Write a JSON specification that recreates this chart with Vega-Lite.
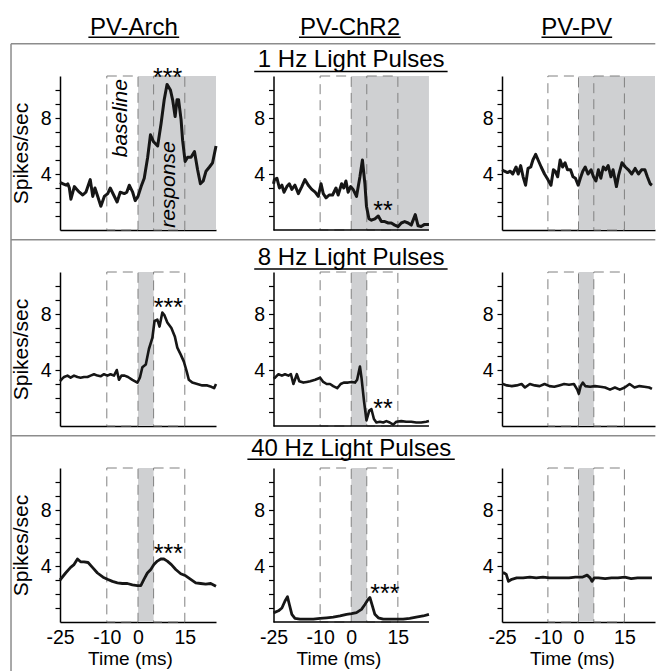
{
"$schema": "https://vega.github.io/schema/vega-lite/v6.json",
"padding": {"left": 10, "top": 0, "right": 0, "bottom": 0},
"background": "white",
"datasets": {
"stim": [{"freq": 1, "start": 0, "end": 25}, {"freq": 8, "start": 0, "end": 5}, {"freq": 40, "start": 0, "end": 5}],
"windows": [{"window": "baseline", "start": -10, "end": 0}, {"window": "response", "start": 5, "end": 15}],
"traces": [
{"cond":"PV-Arch","freq":1,"t":-25,"v":3.4},{"cond":"PV-Arch","freq":1,"t":-24,"v":3.3},{"cond":"PV-Arch","freq":1,"t":-23,"v":3.2},{"cond":"PV-Arch","freq":1,"t":-22.5,"v":3.3},{"cond":"PV-Arch","freq":1,"t":-22,"v":3.0},{"cond":"PV-Arch","freq":1,"t":-21.5,"v":2.2},{"cond":"PV-Arch","freq":1,"t":-20.4,"v":3.1},{"cond":"PV-Arch","freq":1,"t":-19.6,"v":2.9},{"cond":"PV-Arch","freq":1,"t":-18.8,"v":2.7},{"cond":"PV-Arch","freq":1,"t":-17.7,"v":2.5},{"cond":"PV-Arch","freq":1,"t":-16.7,"v":2.7},{"cond":"PV-Arch","freq":1,"t":-15.3,"v":3.6},{"cond":"PV-Arch","freq":1,"t":-14.5,"v":2.4},{"cond":"PV-Arch","freq":1,"t":-13.8,"v":3.0},{"cond":"PV-Arch","freq":1,"t":-12.9,"v":2.4},{"cond":"PV-Arch","freq":1,"t":-11.9,"v":1.7},{"cond":"PV-Arch","freq":1,"t":-10.8,"v":2.4},{"cond":"PV-Arch","freq":1,"t":-9.7,"v":2.6},{"cond":"PV-Arch","freq":1,"t":-8.9,"v":3.0},{"cond":"PV-Arch","freq":1,"t":-7.8,"v":2.5},{"cond":"PV-Arch","freq":1,"t":-6.7,"v":2.0},{"cond":"PV-Arch","freq":1,"t":-5.7,"v":2.7},{"cond":"PV-Arch","freq":1,"t":-4.4,"v":2.6},{"cond":"PV-Arch","freq":1,"t":-3.6,"v":2.7},{"cond":"PV-Arch","freq":1,"t":-2.8,"v":3.2},{"cond":"PV-Arch","freq":1,"t":-1.7,"v":2.7},{"cond":"PV-Arch","freq":1,"t":-0.9,"v":2.1},{"cond":"PV-Arch","freq":1,"t":0,"v":2.4},{"cond":"PV-Arch","freq":1,"t":1.0,"v":3.1},{"cond":"PV-Arch","freq":1,"t":2.0,"v":3.7},{"cond":"PV-Arch","freq":1,"t":3.1,"v":5.2},{"cond":"PV-Arch","freq":1,"t":4.0,"v":6.8},{"cond":"PV-Arch","freq":1,"t":5.0,"v":6.3},{"cond":"PV-Arch","freq":1,"t":6.3,"v":6.0},{"cond":"PV-Arch","freq":1,"t":7.4,"v":7.6},{"cond":"PV-Arch","freq":1,"t":8.4,"v":9.3},{"cond":"PV-Arch","freq":1,"t":9.3,"v":10.4},{"cond":"PV-Arch","freq":1,"t":10.4,"v":10.0},{"cond":"PV-Arch","freq":1,"t":11.1,"v":9.3},{"cond":"PV-Arch","freq":1,"t":11.9,"v":8.1},{"cond":"PV-Arch","freq":1,"t":12.5,"v":9.3},{"cond":"PV-Arch","freq":1,"t":13.0,"v":9.3},{"cond":"PV-Arch","freq":1,"t":13.8,"v":7.9},{"cond":"PV-Arch","freq":1,"t":14.3,"v":6.4},{"cond":"PV-Arch","freq":1,"t":15.1,"v":4.9},{"cond":"PV-Arch","freq":1,"t":15.9,"v":5.2},{"cond":"PV-Arch","freq":1,"t":17.0,"v":5.2},{"cond":"PV-Arch","freq":1,"t":18.1,"v":5.6},{"cond":"PV-Arch","freq":1,"t":19.1,"v":4.3},{"cond":"PV-Arch","freq":1,"t":20.0,"v":3.3},{"cond":"PV-Arch","freq":1,"t":20.9,"v":3.5},{"cond":"PV-Arch","freq":1,"t":21.8,"v":4.2},{"cond":"PV-Arch","freq":1,"t":22.9,"v":4.5},{"cond":"PV-Arch","freq":1,"t":23.9,"v":4.8},{"cond":"PV-Arch","freq":1,"t":25,"v":6.0},
{"cond":"PV-ChR2","freq":1,"t":-25,"v":3.3},{"cond":"PV-ChR2","freq":1,"t":-24.7,"v":3.6},{"cond":"PV-ChR2","freq":1,"t":-23.9,"v":3.7},{"cond":"PV-ChR2","freq":1,"t":-23.1,"v":3.0},{"cond":"PV-ChR2","freq":1,"t":-22.3,"v":3.2},{"cond":"PV-ChR2","freq":1,"t":-21.6,"v":2.7},{"cond":"PV-ChR2","freq":1,"t":-20.7,"v":3.1},{"cond":"PV-ChR2","freq":1,"t":-19.9,"v":3.3},{"cond":"PV-ChR2","freq":1,"t":-19.1,"v":2.9},{"cond":"PV-ChR2","freq":1,"t":-18.1,"v":3.2},{"cond":"PV-ChR2","freq":1,"t":-17.0,"v":2.6},{"cond":"PV-ChR2","freq":1,"t":-15.9,"v":3.1},{"cond":"PV-ChR2","freq":1,"t":-14.9,"v":3.6},{"cond":"PV-ChR2","freq":1,"t":-13.8,"v":3.2},{"cond":"PV-ChR2","freq":1,"t":-12.7,"v":2.9},{"cond":"PV-ChR2","freq":1,"t":-11.6,"v":2.7},{"cond":"PV-ChR2","freq":1,"t":-10.6,"v":2.4},{"cond":"PV-ChR2","freq":1,"t":-9.7,"v":3.3},{"cond":"PV-ChR2","freq":1,"t":-9.0,"v":2.6},{"cond":"PV-ChR2","freq":1,"t":-8.1,"v":2.3},{"cond":"PV-ChR2","freq":1,"t":-7.1,"v":2.5},{"cond":"PV-ChR2","freq":1,"t":-6.0,"v":2.5},{"cond":"PV-ChR2","freq":1,"t":-4.9,"v":3.0},{"cond":"PV-ChR2","freq":1,"t":-4.2,"v":2.5},{"cond":"PV-ChR2","freq":1,"t":-3.1,"v":3.3},{"cond":"PV-ChR2","freq":1,"t":-2.4,"v":3.0},{"cond":"PV-ChR2","freq":1,"t":-1.7,"v":3.5},{"cond":"PV-ChR2","freq":1,"t":-1.0,"v":2.7},{"cond":"PV-ChR2","freq":1,"t":-0.2,"v":3.1},{"cond":"PV-ChR2","freq":1,"t":0.6,"v":2.9},{"cond":"PV-ChR2","freq":1,"t":1.7,"v":2.4},{"cond":"PV-ChR2","freq":1,"t":2.8,"v":3.8},{"cond":"PV-ChR2","freq":1,"t":3.6,"v":5.0},{"cond":"PV-ChR2","freq":1,"t":4.4,"v":3.3},{"cond":"PV-ChR2","freq":1,"t":4.9,"v":1.7},{"cond":"PV-ChR2","freq":1,"t":5.7,"v":0.8},{"cond":"PV-ChR2","freq":1,"t":6.5,"v":0.7},{"cond":"PV-ChR2","freq":1,"t":7.6,"v":0.8},{"cond":"PV-ChR2","freq":1,"t":8.7,"v":1.0},{"cond":"PV-ChR2","freq":1,"t":9.7,"v":0.6},{"cond":"PV-ChR2","freq":1,"t":10.8,"v":0.6},{"cond":"PV-ChR2","freq":1,"t":11.9,"v":0.5},{"cond":"PV-ChR2","freq":1,"t":12.9,"v":0.5},{"cond":"PV-ChR2","freq":1,"t":14.0,"v":0.35},{"cond":"PV-ChR2","freq":1,"t":15.1,"v":0.25},{"cond":"PV-ChR2","freq":1,"t":16.1,"v":0.5},{"cond":"PV-ChR2","freq":1,"t":17.2,"v":0.6},{"cond":"PV-ChR2","freq":1,"t":18.3,"v":0.5},{"cond":"PV-ChR2","freq":1,"t":19.3,"v":0.35},{"cond":"PV-ChR2","freq":1,"t":20.6,"v":1.1},{"cond":"PV-ChR2","freq":1,"t":21.5,"v":0.3},{"cond":"PV-ChR2","freq":1,"t":22.5,"v":0.25},{"cond":"PV-ChR2","freq":1,"t":23.6,"v":0.4},{"cond":"PV-ChR2","freq":1,"t":25,"v":0.4},
{"cond":"PV-PV","freq":1,"t":-25,"v":4.3},{"cond":"PV-PV","freq":1,"t":-24.2,"v":4.2},{"cond":"PV-PV","freq":1,"t":-23.2,"v":4.1},{"cond":"PV-PV","freq":1,"t":-22.3,"v":4.2},{"cond":"PV-PV","freq":1,"t":-21.5,"v":4.0},{"cond":"PV-PV","freq":1,"t":-20.4,"v":4.5},{"cond":"PV-PV","freq":1,"t":-19.7,"v":4.0},{"cond":"PV-PV","freq":1,"t":-18.9,"v":4.6},{"cond":"PV-PV","freq":1,"t":-18.1,"v":3.8},{"cond":"PV-PV","freq":1,"t":-17.3,"v":3.2},{"cond":"PV-PV","freq":1,"t":-16.5,"v":4.4},{"cond":"PV-PV","freq":1,"t":-15.6,"v":4.5},{"cond":"PV-PV","freq":1,"t":-14.9,"v":5.0},{"cond":"PV-PV","freq":1,"t":-14.0,"v":5.4},{"cond":"PV-PV","freq":1,"t":-13.2,"v":5.0},{"cond":"PV-PV","freq":1,"t":-12.2,"v":4.5},{"cond":"PV-PV","freq":1,"t":-11.1,"v":4.0},{"cond":"PV-PV","freq":1,"t":-10.0,"v":3.6},{"cond":"PV-PV","freq":1,"t":-9.0,"v":3.2},{"cond":"PV-PV","freq":1,"t":-8.2,"v":4.3},{"cond":"PV-PV","freq":1,"t":-7.6,"v":4.2},{"cond":"PV-PV","freq":1,"t":-6.8,"v":3.8},{"cond":"PV-PV","freq":1,"t":-6.0,"v":5.0},{"cond":"PV-PV","freq":1,"t":-5.2,"v":4.5},{"cond":"PV-PV","freq":1,"t":-4.4,"v":4.8},{"cond":"PV-PV","freq":1,"t":-3.6,"v":4.3},{"cond":"PV-PV","freq":1,"t":-2.6,"v":4.3},{"cond":"PV-PV","freq":1,"t":-1.8,"v":3.8},{"cond":"PV-PV","freq":1,"t":-1.0,"v":3.7},{"cond":"PV-PV","freq":1,"t":-0.1,"v":3.2},{"cond":"PV-PV","freq":1,"t":0.6,"v":3.7},{"cond":"PV-PV","freq":1,"t":1.4,"v":4.2},{"cond":"PV-PV","freq":1,"t":2.2,"v":4.5},{"cond":"PV-PV","freq":1,"t":3.1,"v":4.0},{"cond":"PV-PV","freq":1,"t":4.1,"v":4.3},{"cond":"PV-PV","freq":1,"t":4.9,"v":3.8},{"cond":"PV-PV","freq":1,"t":5.7,"v":3.5},{"cond":"PV-PV","freq":1,"t":6.5,"v":4.3},{"cond":"PV-PV","freq":1,"t":7.3,"v":3.7},{"cond":"PV-PV","freq":1,"t":8.1,"v":4.5},{"cond":"PV-PV","freq":1,"t":8.9,"v":4.3},{"cond":"PV-PV","freq":1,"t":9.7,"v":4.6},{"cond":"PV-PV","freq":1,"t":10.6,"v":3.8},{"cond":"PV-PV","freq":1,"t":11.3,"v":4.3},{"cond":"PV-PV","freq":1,"t":12.4,"v":3.1},{"cond":"PV-PV","freq":1,"t":13.1,"v":3.9},{"cond":"PV-PV","freq":1,"t":14.2,"v":4.8},{"cond":"PV-PV","freq":1,"t":15.3,"v":4.5},{"cond":"PV-PV","freq":1,"t":16.3,"v":4.3},{"cond":"PV-PV","freq":1,"t":17.4,"v":4.0},{"cond":"PV-PV","freq":1,"t":18.5,"v":4.4},{"cond":"PV-PV","freq":1,"t":19.6,"v":4.0},{"cond":"PV-PV","freq":1,"t":20.6,"v":4.3},{"cond":"PV-PV","freq":1,"t":21.7,"v":4.3},{"cond":"PV-PV","freq":1,"t":22.5,"v":3.8},{"cond":"PV-PV","freq":1,"t":23.4,"v":3.3},{"cond":"PV-PV","freq":1,"t":24.0,"v":3.2},
{"cond":"PV-Arch","freq":8,"t":-25,"v":3.2},{"cond":"PV-Arch","freq":8,"t":-24.2,"v":3.4},{"cond":"PV-Arch","freq":8,"t":-23.7,"v":3.5},{"cond":"PV-Arch","freq":8,"t":-22.6,"v":3.6},{"cond":"PV-Arch","freq":8,"t":-21.6,"v":3.45},{"cond":"PV-Arch","freq":8,"t":-20.5,"v":3.6},{"cond":"PV-Arch","freq":8,"t":-19.4,"v":3.5},{"cond":"PV-Arch","freq":8,"t":-18.4,"v":3.45},{"cond":"PV-Arch","freq":8,"t":-17.3,"v":3.5},{"cond":"PV-Arch","freq":8,"t":-16.2,"v":3.5},{"cond":"PV-Arch","freq":8,"t":-15.2,"v":3.6},{"cond":"PV-Arch","freq":8,"t":-14.1,"v":3.7},{"cond":"PV-Arch","freq":8,"t":-13.0,"v":3.6},{"cond":"PV-Arch","freq":8,"t":-12.0,"v":3.55},{"cond":"PV-Arch","freq":8,"t":-10.9,"v":3.7},{"cond":"PV-Arch","freq":8,"t":-9.8,"v":3.6},{"cond":"PV-Arch","freq":8,"t":-8.8,"v":3.7},{"cond":"PV-Arch","freq":8,"t":-7.7,"v":3.6},{"cond":"PV-Arch","freq":8,"t":-6.8,"v":4.0},{"cond":"PV-Arch","freq":8,"t":-6.1,"v":3.3},{"cond":"PV-Arch","freq":8,"t":-5.3,"v":3.6},{"cond":"PV-Arch","freq":8,"t":-4.3,"v":3.6},{"cond":"PV-Arch","freq":8,"t":-3.2,"v":3.5},{"cond":"PV-Arch","freq":8,"t":-1.8,"v":3.3},{"cond":"PV-Arch","freq":8,"t":-0.2,"v":3.1},{"cond":"PV-Arch","freq":8,"t":0.6,"v":3.45},{"cond":"PV-Arch","freq":8,"t":1.4,"v":4.2},{"cond":"PV-Arch","freq":8,"t":2.5,"v":4.4},{"cond":"PV-Arch","freq":8,"t":3.5,"v":5.5},{"cond":"PV-Arch","freq":8,"t":4.6,"v":6.3},{"cond":"PV-Arch","freq":8,"t":5.3,"v":7.5},{"cond":"PV-Arch","freq":8,"t":6.2,"v":7.6},{"cond":"PV-Arch","freq":8,"t":6.9,"v":7.1},{"cond":"PV-Arch","freq":8,"t":7.8,"v":8.1},{"cond":"PV-Arch","freq":8,"t":8.5,"v":7.9},{"cond":"PV-Arch","freq":8,"t":9.4,"v":7.4},{"cond":"PV-Arch","freq":8,"t":10.7,"v":7.0},{"cond":"PV-Arch","freq":8,"t":11.8,"v":6.4},{"cond":"PV-Arch","freq":8,"t":12.6,"v":5.6},{"cond":"PV-Arch","freq":8,"t":13.7,"v":5.1},{"cond":"PV-Arch","freq":8,"t":14.7,"v":4.6},{"cond":"PV-Arch","freq":8,"t":15.6,"v":3.9},{"cond":"PV-Arch","freq":8,"t":16.3,"v":3.3},{"cond":"PV-Arch","freq":8,"t":17.4,"v":3.1},{"cond":"PV-Arch","freq":8,"t":19.0,"v":3.0},{"cond":"PV-Arch","freq":8,"t":20.6,"v":2.9},{"cond":"PV-Arch","freq":8,"t":22.2,"v":2.9},{"cond":"PV-Arch","freq":8,"t":23.5,"v":2.8},{"cond":"PV-Arch","freq":8,"t":24.4,"v":2.7},{"cond":"PV-Arch","freq":8,"t":25,"v":3.0},
{"cond":"PV-ChR2","freq":8,"t":-25,"v":3.4},{"cond":"PV-ChR2","freq":8,"t":-24.5,"v":3.45},{"cond":"PV-ChR2","freq":8,"t":-23.4,"v":3.7},{"cond":"PV-ChR2","freq":8,"t":-22.3,"v":3.6},{"cond":"PV-ChR2","freq":8,"t":-21.3,"v":3.7},{"cond":"PV-ChR2","freq":8,"t":-20.2,"v":3.6},{"cond":"PV-ChR2","freq":8,"t":-19.4,"v":3.7},{"cond":"PV-ChR2","freq":8,"t":-18.6,"v":3.0},{"cond":"PV-ChR2","freq":8,"t":-17.5,"v":3.7},{"cond":"PV-ChR2","freq":8,"t":-16.7,"v":3.2},{"cond":"PV-ChR2","freq":8,"t":-15.4,"v":3.1},{"cond":"PV-ChR2","freq":8,"t":-14.3,"v":3.15},{"cond":"PV-ChR2","freq":8,"t":-13.2,"v":3.2},{"cond":"PV-ChR2","freq":8,"t":-11.6,"v":3.3},{"cond":"PV-ChR2","freq":8,"t":-10.0,"v":3.45},{"cond":"PV-ChR2","freq":8,"t":-9.0,"v":3.15},{"cond":"PV-ChR2","freq":8,"t":-7.9,"v":3.0},{"cond":"PV-ChR2","freq":8,"t":-6.8,"v":3.0},{"cond":"PV-ChR2","freq":8,"t":-5.8,"v":2.85},{"cond":"PV-ChR2","freq":8,"t":-4.5,"v":2.7},{"cond":"PV-ChR2","freq":8,"t":-3.4,"v":3.0},{"cond":"PV-ChR2","freq":8,"t":-2.4,"v":3.1},{"cond":"PV-ChR2","freq":8,"t":-1.0,"v":3.1},{"cond":"PV-ChR2","freq":8,"t":0.1,"v":3.15},{"cond":"PV-ChR2","freq":8,"t":1.2,"v":3.1},{"cond":"PV-ChR2","freq":8,"t":1.9,"v":3.3},{"cond":"PV-ChR2","freq":8,"t":2.8,"v":4.25},{"cond":"PV-ChR2","freq":8,"t":3.3,"v":3.45},{"cond":"PV-ChR2","freq":8,"t":4.1,"v":1.8},{"cond":"PV-ChR2","freq":8,"t":4.9,"v":0.4},{"cond":"PV-ChR2","freq":8,"t":5.8,"v":1.1},{"cond":"PV-ChR2","freq":8,"t":6.5,"v":1.2},{"cond":"PV-ChR2","freq":8,"t":7.3,"v":0.5},{"cond":"PV-ChR2","freq":8,"t":8.1,"v":0.25},{"cond":"PV-ChR2","freq":8,"t":9.2,"v":0.3},{"cond":"PV-ChR2","freq":8,"t":10.3,"v":0.25},{"cond":"PV-ChR2","freq":8,"t":11.3,"v":0.35},{"cond":"PV-ChR2","freq":8,"t":12.4,"v":0.25},{"cond":"PV-ChR2","freq":8,"t":13.5,"v":0.1},{"cond":"PV-ChR2","freq":8,"t":14.5,"v":0.3},{"cond":"PV-ChR2","freq":8,"t":16.1,"v":0.35},{"cond":"PV-ChR2","freq":8,"t":17.7,"v":0.3},{"cond":"PV-ChR2","freq":8,"t":19.3,"v":0.3},{"cond":"PV-ChR2","freq":8,"t":20.9,"v":0.25},{"cond":"PV-ChR2","freq":8,"t":22.5,"v":0.25},{"cond":"PV-ChR2","freq":8,"t":24.1,"v":0.3},{"cond":"PV-ChR2","freq":8,"t":25,"v":0.35},
{"cond":"PV-PV","freq":8,"t":-25,"v":3.0},{"cond":"PV-PV","freq":8,"t":-24.7,"v":3.0},{"cond":"PV-PV","freq":8,"t":-23.4,"v":2.9},{"cond":"PV-PV","freq":8,"t":-21.8,"v":2.85},{"cond":"PV-PV","freq":8,"t":-20.2,"v":2.9},{"cond":"PV-PV","freq":8,"t":-18.6,"v":3.0},{"cond":"PV-PV","freq":8,"t":-17.5,"v":2.75},{"cond":"PV-PV","freq":8,"t":-15.9,"v":3.0},{"cond":"PV-PV","freq":8,"t":-14.3,"v":2.9},{"cond":"PV-PV","freq":8,"t":-12.7,"v":2.85},{"cond":"PV-PV","freq":8,"t":-11.1,"v":3.0},{"cond":"PV-PV","freq":8,"t":-9.5,"v":2.85},{"cond":"PV-PV","freq":8,"t":-7.9,"v":2.8},{"cond":"PV-PV","freq":8,"t":-6.3,"v":2.9},{"cond":"PV-PV","freq":8,"t":-4.7,"v":3.0},{"cond":"PV-PV","freq":8,"t":-3.1,"v":2.95},{"cond":"PV-PV","freq":8,"t":-1.5,"v":3.0},{"cond":"PV-PV","freq":8,"t":-0.4,"v":2.6},{"cond":"PV-PV","freq":8,"t":0.1,"v":2.3},{"cond":"PV-PV","freq":8,"t":0.7,"v":2.85},{"cond":"PV-PV","freq":8,"t":1.4,"v":3.1},{"cond":"PV-PV","freq":8,"t":2.2,"v":2.85},{"cond":"PV-PV","freq":8,"t":3.8,"v":2.8},{"cond":"PV-PV","freq":8,"t":5.4,"v":2.85},{"cond":"PV-PV","freq":8,"t":7.1,"v":2.8},{"cond":"PV-PV","freq":8,"t":8.7,"v":2.75},{"cond":"PV-PV","freq":8,"t":10.3,"v":2.6},{"cond":"PV-PV","freq":8,"t":11.9,"v":2.75},{"cond":"PV-PV","freq":8,"t":13.5,"v":2.6},{"cond":"PV-PV","freq":8,"t":15.1,"v":2.75},{"cond":"PV-PV","freq":8,"t":16.7,"v":3.0},{"cond":"PV-PV","freq":8,"t":18.3,"v":2.75},{"cond":"PV-PV","freq":8,"t":19.9,"v":2.85},{"cond":"PV-PV","freq":8,"t":21.5,"v":2.8},{"cond":"PV-PV","freq":8,"t":23.1,"v":2.75},{"cond":"PV-PV","freq":8,"t":24.0,"v":2.65},
{"cond":"PV-Arch","freq":40,"t":-25,"v":3.0},{"cond":"PV-Arch","freq":40,"t":-23.2,"v":3.5},{"cond":"PV-Arch","freq":40,"t":-21.6,"v":3.9},{"cond":"PV-Arch","freq":40,"t":-20.5,"v":4.1},{"cond":"PV-Arch","freq":40,"t":-19.4,"v":4.5},{"cond":"PV-Arch","freq":40,"t":-18.4,"v":4.3},{"cond":"PV-Arch","freq":40,"t":-17.3,"v":4.3},{"cond":"PV-Arch","freq":40,"t":-16.0,"v":4.25},{"cond":"PV-Arch","freq":40,"t":-14.6,"v":3.9},{"cond":"PV-Arch","freq":40,"t":-13.0,"v":3.5},{"cond":"PV-Arch","freq":40,"t":-11.2,"v":3.2},{"cond":"PV-Arch","freq":40,"t":-9.8,"v":3.05},{"cond":"PV-Arch","freq":40,"t":-8.2,"v":2.9},{"cond":"PV-Arch","freq":40,"t":-6.6,"v":2.8},{"cond":"PV-Arch","freq":40,"t":-5.0,"v":2.75},{"cond":"PV-Arch","freq":40,"t":-3.4,"v":2.75},{"cond":"PV-Arch","freq":40,"t":-1.8,"v":2.65},{"cond":"PV-Arch","freq":40,"t":-0.2,"v":2.6},{"cond":"PV-Arch","freq":40,"t":0.9,"v":2.6},{"cond":"PV-Arch","freq":40,"t":1.9,"v":3.05},{"cond":"PV-Arch","freq":40,"t":3.0,"v":3.5},{"cond":"PV-Arch","freq":40,"t":4.1,"v":3.75},{"cond":"PV-Arch","freq":40,"t":5.1,"v":4.1},{"cond":"PV-Arch","freq":40,"t":6.2,"v":4.35},{"cond":"PV-Arch","freq":40,"t":7.3,"v":4.5},{"cond":"PV-Arch","freq":40,"t":8.3,"v":4.5},{"cond":"PV-Arch","freq":40,"t":9.4,"v":4.35},{"cond":"PV-Arch","freq":40,"t":10.7,"v":4.1},{"cond":"PV-Arch","freq":40,"t":12.1,"v":3.75},{"cond":"PV-Arch","freq":40,"t":13.7,"v":3.45},{"cond":"PV-Arch","freq":40,"t":15.3,"v":3.3},{"cond":"PV-Arch","freq":40,"t":16.9,"v":3.05},{"cond":"PV-Arch","freq":40,"t":18.5,"v":2.8},{"cond":"PV-Arch","freq":40,"t":20.1,"v":2.75},{"cond":"PV-Arch","freq":40,"t":21.7,"v":2.7},{"cond":"PV-Arch","freq":40,"t":23.3,"v":2.75},{"cond":"PV-Arch","freq":40,"t":25,"v":2.55},
{"cond":"PV-ChR2","freq":40,"t":-25,"v":0.65},{"cond":"PV-ChR2","freq":40,"t":-23.4,"v":0.8},{"cond":"PV-ChR2","freq":40,"t":-22.3,"v":1.0},{"cond":"PV-ChR2","freq":40,"t":-21.3,"v":1.5},{"cond":"PV-ChR2","freq":40,"t":-20.5,"v":1.8},{"cond":"PV-ChR2","freq":40,"t":-19.9,"v":1.25},{"cond":"PV-ChR2","freq":40,"t":-19.1,"v":0.55},{"cond":"PV-ChR2","freq":40,"t":-18.1,"v":0.26},{"cond":"PV-ChR2","freq":40,"t":-16.5,"v":0.2},{"cond":"PV-ChR2","freq":40,"t":-14.3,"v":0.2},{"cond":"PV-ChR2","freq":40,"t":-12.2,"v":0.2},{"cond":"PV-ChR2","freq":40,"t":-10.0,"v":0.26},{"cond":"PV-ChR2","freq":40,"t":-7.9,"v":0.3},{"cond":"PV-ChR2","freq":40,"t":-5.8,"v":0.35},{"cond":"PV-ChR2","freq":40,"t":-3.6,"v":0.43},{"cond":"PV-ChR2","freq":40,"t":-1.5,"v":0.55},{"cond":"PV-ChR2","freq":40,"t":0.1,"v":0.6},{"cond":"PV-ChR2","freq":40,"t":1.7,"v":0.67},{"cond":"PV-ChR2","freq":40,"t":3.3,"v":0.9},{"cond":"PV-ChR2","freq":40,"t":4.4,"v":1.25},{"cond":"PV-ChR2","freq":40,"t":5.4,"v":1.6},{"cond":"PV-ChR2","freq":40,"t":6.0,"v":1.75},{"cond":"PV-ChR2","freq":40,"t":6.8,"v":1.15},{"cond":"PV-ChR2","freq":40,"t":7.6,"v":0.55},{"cond":"PV-ChR2","freq":40,"t":8.7,"v":0.3},{"cond":"PV-ChR2","freq":40,"t":10.3,"v":0.2},{"cond":"PV-ChR2","freq":40,"t":12.4,"v":0.2},{"cond":"PV-ChR2","freq":40,"t":14.5,"v":0.2},{"cond":"PV-ChR2","freq":40,"t":16.7,"v":0.2},{"cond":"PV-ChR2","freq":40,"t":18.8,"v":0.26},{"cond":"PV-ChR2","freq":40,"t":20.9,"v":0.35},{"cond":"PV-ChR2","freq":40,"t":23.1,"v":0.43},{"cond":"PV-ChR2","freq":40,"t":25,"v":0.55},
{"cond":"PV-PV","freq":40,"t":-25,"v":3.5},{"cond":"PV-PV","freq":40,"t":-24.3,"v":3.5},{"cond":"PV-PV","freq":40,"t":-23.6,"v":3.4},{"cond":"PV-PV","freq":40,"t":-22.9,"v":2.9},{"cond":"PV-PV","freq":40,"t":-21.8,"v":3.05},{"cond":"PV-PV","freq":40,"t":-20.2,"v":3.15},{"cond":"PV-PV","freq":40,"t":-18.1,"v":3.15},{"cond":"PV-PV","freq":40,"t":-15.9,"v":3.2},{"cond":"PV-PV","freq":40,"t":-13.8,"v":3.15},{"cond":"PV-PV","freq":40,"t":-11.6,"v":3.2},{"cond":"PV-PV","freq":40,"t":-9.5,"v":3.15},{"cond":"PV-PV","freq":40,"t":-7.4,"v":3.15},{"cond":"PV-PV","freq":40,"t":-5.2,"v":3.15},{"cond":"PV-PV","freq":40,"t":-3.1,"v":3.15},{"cond":"PV-PV","freq":40,"t":-1.0,"v":3.2},{"cond":"PV-PV","freq":40,"t":1.2,"v":3.2},{"cond":"PV-PV","freq":40,"t":2.8,"v":3.35},{"cond":"PV-PV","freq":40,"t":3.8,"v":3.15},{"cond":"PV-PV","freq":40,"t":4.4,"v":2.9},{"cond":"PV-PV","freq":40,"t":5.1,"v":3.15},{"cond":"PV-PV","freq":40,"t":6.5,"v":3.15},{"cond":"PV-PV","freq":40,"t":8.7,"v":3.1},{"cond":"PV-PV","freq":40,"t":10.8,"v":3.15},{"cond":"PV-PV","freq":40,"t":12.9,"v":3.15},{"cond":"PV-PV","freq":40,"t":15.1,"v":3.2},{"cond":"PV-PV","freq":40,"t":17.2,"v":3.1},{"cond":"PV-PV","freq":40,"t":19.3,"v":3.15},{"cond":"PV-PV","freq":40,"t":21.5,"v":3.15},{"cond":"PV-PV","freq":40,"t":24.0,"v":3.15}
]
},
"columns": 3,
"align": "each",
"bounds": "flush",
"spacing": {"row": 42, "column": 57.5},
"concat": [
{"width": 156, "height": 154, "layer": [
 {"data": {"name": "stim"}, "transform": [{"filter": "datum.freq == 1"}], "mark": {"type": "rect", "color": "#cfd0d2"},
  "encoding": {"x": {"field": "start", "type": "quantitative", "scale": {"domain": [-25, 25]}, "axis": {"title": null, "labels": false, "ticks": false}},
   "x2": {"field": "end"},
   "y": {"datum": 0, "type": "quantitative", "scale": {"domain": [0, 11]}, "axis": {"title": "Spikes/sec", "titleFontSize": 21, "titlePadding": 9, "values": [1,2,3,4,5,6,7,8,9,10], "tickCount": 20, "labelExpr": "datum.value == 4 || datum.value == 8 ? '' + datum.value : ''", "tickSize": 5, "labelPadding": 4}},
   "y2": {"datum": 11}}},
 {"data": {"name": "windows"}, "mark": {"type": "rect", "filled": false, "stroke": "#808080", "strokeWidth": 1, "strokeDash": [10, 6]},
  "encoding": {"x": {"field": "start", "type": "quantitative"}, "x2": {"field": "end"}, "y": {"datum": 0}, "y2": {"datum": 11}}},
 {"data": {"name": "traces"}, "transform": [{"filter": "datum.cond == 'PV-Arch' && datum.freq == 1"}], "mark": {"type": "line", "color": "#161616", "strokeWidth": 3, "strokeJoin": "round"},
  "encoding": {"x": {"field": "t", "type": "quantitative"}, "y": {"field": "v", "type": "quantitative"}}},
 {"data": {"values": [{}]}, "mark": {"type": "text", "text": "***", "fontSize": 25, "baseline": "alphabetic"}, "encoding": {"x": {"datum": 9.5}, "y": {"datum": 10.29}}},
 {"data": {"values": [{}]}, "mark": {"type": "text", "text": "baseline", "fontSize": 21, "fontStyle": "italic", "angle": 270, "align": "center", "baseline": "alphabetic"}, "encoding": {"x": {"datum": -3.45}, "y": {"datum": 7.99}}},
 {"data": {"values": [{}]}, "mark": {"type": "text", "text": "response", "fontSize": 21, "fontStyle": "italic", "angle": 270, "align": "center", "baseline": "alphabetic"}, "encoding": {"x": {"datum": 11.9}, "y": {"datum": 3.24}}},
 {"data": {"values": [{}]}, "mark": {"type": "text", "text": "PV-Arch", "fontSize": 24, "align": "center", "baseline": "alphabetic"}, "encoding": {"x": {"datum": -1.3}, "y": {"datum": 13.93}}},
 {"data": {"values": [{}]}, "mark": {"type": "rule", "color": "#000", "strokeWidth": 1.5}, "encoding": {"x": {"datum": -15.9}, "x2": {"datum": 13.2}, "y": {"datum": 13.76}}},
 {"data": {"values": [{}]}, "mark": {"type": "rule", "color": "#8c8c8c", "strokeWidth": 1.5}, "encoding": {"x": {"datum": -40.7}, "x2": {"datum": 165.8}, "y": {"datum": 13.3}}},
 {"data": {"values": [{}]}, "mark": {"type": "rule", "color": "#8c8c8c", "strokeWidth": 1.5}, "encoding": {"x": {"datum": -40.7}, "y": {"datum": 13.3}, "y2": {"datum": -31.5}}},
 {"data": {"values": [{}]}, "mark": {"type": "rule", "color": "#ffffff", "strokeWidth": 0, "strokeOpacity": 0}, "encoding": {"x": {"datum": -25}, "x2": {"datum": -24}, "y": {"datum": 16.38}}}
]},
{"width": 171, "height": 154, "layer": [
 {"data": {"name": "stim"}, "transform": [{"filter": "datum.freq == 1"}], "mark": {"type": "rect", "color": "#cfd0d2"},
  "encoding": {"x": {"field": "start", "type": "quantitative", "scale": {"domain": [-25, 29.81]}, "axis": {"title": null, "labels": false, "ticks": false, "domain": false}},
   "x2": {"field": "end"},
   "y": {"datum": 0, "type": "quantitative", "scale": {"domain": [0, 11]}, "axis": {"title": null, "values": [1,2,3,4,5,6,7,8,9,10], "tickCount": 20, "labelExpr": "datum.value == 4 || datum.value == 8 ? '' + datum.value : ''", "tickSize": 5, "labelPadding": 4}},
   "y2": {"datum": 11}}},
 {"data": {"name": "windows"}, "mark": {"type": "rect", "filled": false, "stroke": "#808080", "strokeWidth": 1, "strokeDash": [10, 6]},
  "encoding": {"x": {"field": "start", "type": "quantitative"}, "x2": {"field": "end"}, "y": {"datum": 0}, "y2": {"datum": 11}}},
 {"data": {"values": [{}]}, "mark": {"type": "rule", "color": "#000", "strokeWidth": 1.5}, "encoding": {"x": {"datum": -25}, "x2": {"datum": 25}, "y": {"datum": 0}}},
 {"data": {"name": "traces"}, "transform": [{"filter": "datum.cond == 'PV-ChR2' && datum.freq == 1"}], "mark": {"type": "line", "color": "#161616", "strokeWidth": 3, "strokeJoin": "round"},
  "encoding": {"x": {"field": "t", "type": "quantitative"}, "y": {"field": "v", "type": "quantitative"}}},
 {"data": {"values": [{}]}, "mark": {"type": "text", "text": "**", "fontSize": 25, "baseline": "alphabetic"}, "encoding": {"x": {"datum": 10.2}, "y": {"datum": 0.79}}},
 {"data": {"values": [{}]}, "mark": {"type": "text", "text": "PV-ChR2", "fontSize": 24, "align": "center", "baseline": "alphabetic"}, "encoding": {"x": {"datum": -0.4}, "y": {"datum": 13.93}}},
 {"data": {"values": [{}]}, "mark": {"type": "rule", "color": "#000", "strokeWidth": 1.5}, "encoding": {"x": {"datum": -16.8}, "x2": {"datum": 15.9}, "y": {"datum": 13.76}}},
 {"data": {"values": [{}]}, "mark": {"type": "text", "text": "1 Hz Light Pulses", "fontSize": 24, "align": "center", "baseline": "alphabetic"}, "encoding": {"x": {"datum": 0}, "y": {"datum": 11.61}}},
 {"data": {"values": [{}]}, "mark": {"type": "rule", "color": "#000", "strokeWidth": 1.5}, "encoding": {"x": {"datum": -31.2}, "x2": {"datum": 31.0}, "y": {"datum": 11.33}}}
]},
{"width": 153, "height": 154, "layer": [
 {"data": {"name": "stim"}, "transform": [{"filter": "datum.freq == 1"}], "mark": {"type": "rect", "color": "#cfd0d2", "clip": true},
  "encoding": {"x": {"field": "start", "type": "quantitative", "scale": {"domain": [-25, 24.04]}, "axis": {"title": null, "labels": false, "ticks": false}},
   "x2": {"field": "end"},
   "y": {"datum": 0, "type": "quantitative", "scale": {"domain": [0, 11]}, "axis": {"title": null, "values": [1,2,3,4,5,6,7,8,9,10], "tickCount": 20, "labelExpr": "datum.value == 4 || datum.value == 8 ? '' + datum.value : ''", "tickSize": 5, "labelPadding": 4}},
   "y2": {"datum": 11}}},
 {"data": {"name": "windows"}, "mark": {"type": "rect", "filled": false, "stroke": "#808080", "strokeWidth": 1, "strokeDash": [10, 6]},
  "encoding": {"x": {"field": "start", "type": "quantitative"}, "x2": {"field": "end"}, "y": {"datum": 0}, "y2": {"datum": 11}}},
 {"data": {"name": "traces"}, "transform": [{"filter": "datum.cond == 'PV-PV' && datum.freq == 1"}], "mark": {"type": "line", "color": "#161616", "strokeWidth": 3, "strokeJoin": "round"},
  "encoding": {"x": {"field": "t", "type": "quantitative"}, "y": {"field": "v", "type": "quantitative"}}},
 {"data": {"values": [{}]}, "mark": {"type": "text", "text": "PV-PV", "fontSize": 24, "align": "center", "baseline": "alphabetic"}, "encoding": {"x": {"datum": -0.6}, "y": {"datum": 13.93}}},
 {"data": {"values": [{}]}, "mark": {"type": "rule", "color": "#000", "strokeWidth": 1.5}, "encoding": {"x": {"datum": -12.1}, "x2": {"datum": 11.0}, "y": {"datum": 13.76}}}
]},
{"width": 156, "height": 154, "layer": [
 {"data": {"name": "stim"}, "transform": [{"filter": "datum.freq == 8"}], "mark": {"type": "rect", "color": "#cfd0d2"},
  "encoding": {"x": {"field": "start", "type": "quantitative", "scale": {"domain": [-25, 25]}, "axis": {"title": null, "labels": false, "ticks": false}},
   "x2": {"field": "end"},
   "y": {"datum": 0, "type": "quantitative", "scale": {"domain": [0, 11]}, "axis": {"title": "Spikes/sec", "titleFontSize": 21, "titlePadding": 9, "values": [1,2,3,4,5,6,7,8,9,10], "tickCount": 20, "labelExpr": "datum.value == 4 || datum.value == 8 ? '' + datum.value : ''", "tickSize": 5, "labelPadding": 4}},
   "y2": {"datum": 11}}},
 {"data": {"name": "windows"}, "mark": {"type": "rect", "filled": false, "stroke": "#808080", "strokeWidth": 1, "strokeDash": [10, 6]},
  "encoding": {"x": {"field": "start", "type": "quantitative"}, "x2": {"field": "end"}, "y": {"datum": 0}, "y2": {"datum": 11}}},
 {"data": {"name": "traces"}, "transform": [{"filter": "datum.cond == 'PV-Arch' && datum.freq == 8"}], "mark": {"type": "line", "color": "#161616", "strokeWidth": 2.6, "strokeJoin": "round"},
  "encoding": {"x": {"field": "t", "type": "quantitative"}, "y": {"field": "v", "type": "quantitative"}}},
 {"data": {"values": [{}]}, "mark": {"type": "text", "text": "***", "fontSize": 25, "baseline": "alphabetic"}, "encoding": {"x": {"datum": 9.7}, "y": {"datum": 7.86}}},
 {"data": {"values": [{}]}, "mark": {"type": "rule", "color": "#8c8c8c", "strokeWidth": 1.5}, "encoding": {"x": {"datum": -40.7}, "x2": {"datum": 165.8}, "y": {"datum": 13.3}}}
]},
{"width": 171, "height": 154, "layer": [
 {"data": {"name": "stim"}, "transform": [{"filter": "datum.freq == 8"}], "mark": {"type": "rect", "color": "#cfd0d2"},
  "encoding": {"x": {"field": "start", "type": "quantitative", "scale": {"domain": [-25, 29.81]}, "axis": {"title": null, "labels": false, "ticks": false, "domain": false}},
   "x2": {"field": "end"},
   "y": {"datum": 0, "type": "quantitative", "scale": {"domain": [0, 11]}, "axis": {"title": null, "values": [1,2,3,4,5,6,7,8,9,10], "tickCount": 20, "labelExpr": "datum.value == 4 || datum.value == 8 ? '' + datum.value : ''", "tickSize": 5, "labelPadding": 4}},
   "y2": {"datum": 11}}},
 {"data": {"name": "windows"}, "mark": {"type": "rect", "filled": false, "stroke": "#808080", "strokeWidth": 1, "strokeDash": [10, 6]},
  "encoding": {"x": {"field": "start", "type": "quantitative"}, "x2": {"field": "end"}, "y": {"datum": 0}, "y2": {"datum": 11}}},
 {"data": {"values": [{}]}, "mark": {"type": "rule", "color": "#000", "strokeWidth": 1.5}, "encoding": {"x": {"datum": -25}, "x2": {"datum": 25}, "y": {"datum": 0}}},
 {"data": {"name": "traces"}, "transform": [{"filter": "datum.cond == 'PV-ChR2' && datum.freq == 8"}], "mark": {"type": "line", "color": "#161616", "strokeWidth": 2.6, "strokeJoin": "round"},
  "encoding": {"x": {"field": "t", "type": "quantitative"}, "y": {"field": "v", "type": "quantitative"}}},
 {"data": {"values": [{}]}, "mark": {"type": "text", "text": "**", "fontSize": 25, "baseline": "alphabetic"}, "encoding": {"x": {"datum": 10.2}, "y": {"datum": 0.64}}},
 {"data": {"values": [{}]}, "mark": {"type": "text", "text": "8 Hz Light Pulses", "fontSize": 24, "align": "center", "baseline": "alphabetic"}, "encoding": {"x": {"datum": 0}, "y": {"datum": 11.5}}},
 {"data": {"values": [{}]}, "mark": {"type": "rule", "color": "#000", "strokeWidth": 1.5}, "encoding": {"x": {"datum": -31.2}, "x2": {"datum": 31.0}, "y": {"datum": 11.21}}}
]},
{"width": 153, "height": 154, "layer": [
 {"data": {"name": "stim"}, "transform": [{"filter": "datum.freq == 8"}], "mark": {"type": "rect", "color": "#cfd0d2", "clip": true},
  "encoding": {"x": {"field": "start", "type": "quantitative", "scale": {"domain": [-25, 24.04]}, "axis": {"title": null, "labels": false, "ticks": false}},
   "x2": {"field": "end"},
   "y": {"datum": 0, "type": "quantitative", "scale": {"domain": [0, 11]}, "axis": {"title": null, "values": [1,2,3,4,5,6,7,8,9,10], "tickCount": 20, "labelExpr": "datum.value == 4 || datum.value == 8 ? '' + datum.value : ''", "tickSize": 5, "labelPadding": 4}},
   "y2": {"datum": 11}}},
 {"data": {"name": "windows"}, "mark": {"type": "rect", "filled": false, "stroke": "#808080", "strokeWidth": 1, "strokeDash": [10, 6]},
  "encoding": {"x": {"field": "start", "type": "quantitative"}, "x2": {"field": "end"}, "y": {"datum": 0}, "y2": {"datum": 11}}},
 {"data": {"name": "traces"}, "transform": [{"filter": "datum.cond == 'PV-PV' && datum.freq == 8"}], "mark": {"type": "line", "color": "#161616", "strokeWidth": 2.6, "strokeJoin": "round"},
  "encoding": {"x": {"field": "t", "type": "quantitative"}, "y": {"field": "v", "type": "quantitative"}}}
]},
{"width": 156, "height": 154, "layer": [
 {"data": {"name": "stim"}, "transform": [{"filter": "datum.freq == 40"}], "mark": {"type": "rect", "color": "#cfd0d2"},
  "encoding": {"x": {"field": "start", "type": "quantitative", "scale": {"domain": [-25, 25]}, "axis": {"title": "Time (ms)", "values": [-25, -10, 0, 15], "tickCount": 20, "labelExpr": "'' + datum.value", "ticks": false, "labelFlush": false, "labelOverlap": false, "labelPadding": 6, "titlePadding": 3, "titleX": 70}},
   "x2": {"field": "end"},
   "y": {"datum": 0, "type": "quantitative", "scale": {"domain": [0, 11]}, "axis": {"title": "Spikes/sec", "titleFontSize": 21, "titlePadding": 9, "values": [1,2,3,4,5,6,7,8,9,10], "tickCount": 20, "labelExpr": "datum.value == 4 || datum.value == 8 ? '' + datum.value : ''", "tickSize": 5, "labelPadding": 4}},
   "y2": {"datum": 11}}},
 {"data": {"name": "windows"}, "mark": {"type": "rect", "filled": false, "stroke": "#808080", "strokeWidth": 1, "strokeDash": [10, 6]},
  "encoding": {"x": {"field": "start", "type": "quantitative"}, "x2": {"field": "end"}, "y": {"datum": 0}, "y2": {"datum": 11}}},
 {"data": {"name": "traces"}, "transform": [{"filter": "datum.cond == 'PV-Arch' && datum.freq == 40"}], "mark": {"type": "line", "color": "#161616", "strokeWidth": 2.8, "strokeJoin": "round"},
  "encoding": {"x": {"field": "t", "type": "quantitative"}, "y": {"field": "v", "type": "quantitative"}}},
 {"data": {"values": [{}]}, "mark": {"type": "text", "text": "***", "fontSize": 25, "baseline": "alphabetic"}, "encoding": {"x": {"datum": 9.7}, "y": {"datum": 4.29}}},
 {"data": {"values": [{}]}, "mark": {"type": "rule", "color": "#8c8c8c", "strokeWidth": 1.5}, "encoding": {"x": {"datum": -40.7}, "x2": {"datum": 165.8}, "y": {"datum": 13.3}}}
]},
{"width": 171, "height": 154, "layer": [
 {"data": {"name": "stim"}, "transform": [{"filter": "datum.freq == 40"}], "mark": {"type": "rect", "color": "#cfd0d2"},
  "encoding": {"x": {"field": "start", "type": "quantitative", "scale": {"domain": [-25, 29.81]}, "axis": {"title": "Time (ms)", "domain": false, "values": [-25, -10, 0, 15], "tickCount": 20, "labelExpr": "'' + datum.value", "ticks": false, "labelFlush": false, "labelOverlap": false, "labelPadding": 6, "titlePadding": 3, "titleX": 65}},
   "x2": {"field": "end"},
   "y": {"datum": 0, "type": "quantitative", "scale": {"domain": [0, 11]}, "axis": {"title": null, "values": [1,2,3,4,5,6,7,8,9,10], "tickCount": 20, "labelExpr": "datum.value == 4 || datum.value == 8 ? '' + datum.value : ''", "tickSize": 5, "labelPadding": 4}},
   "y2": {"datum": 11}}},
 {"data": {"name": "windows"}, "mark": {"type": "rect", "filled": false, "stroke": "#808080", "strokeWidth": 1, "strokeDash": [10, 6]},
  "encoding": {"x": {"field": "start", "type": "quantitative"}, "x2": {"field": "end"}, "y": {"datum": 0}, "y2": {"datum": 11}}},
 {"data": {"values": [{}]}, "mark": {"type": "rule", "color": "#000", "strokeWidth": 1.5}, "encoding": {"x": {"datum": -25}, "x2": {"datum": 25}, "y": {"datum": 0}}},
 {"data": {"name": "traces"}, "transform": [{"filter": "datum.cond == 'PV-ChR2' && datum.freq == 40"}], "mark": {"type": "line", "color": "#161616", "strokeWidth": 2.8, "strokeJoin": "round"},
  "encoding": {"x": {"field": "t", "type": "quantitative"}, "y": {"field": "v", "type": "quantitative"}}},
 {"data": {"values": [{}]}, "mark": {"type": "text", "text": "***", "fontSize": 25, "baseline": "alphabetic"}, "encoding": {"x": {"datum": 10.8}, "y": {"datum": 1.43}}},
 {"data": {"values": [{}]}, "mark": {"type": "text", "text": "40 Hz Light Pulses", "fontSize": 24, "align": "center", "baseline": "alphabetic"}, "encoding": {"x": {"datum": 0}, "y": {"datum": 11.88}}},
 {"data": {"values": [{}]}, "mark": {"type": "rule", "color": "#000", "strokeWidth": 1.5}, "encoding": {"x": {"datum": -33.4}, "x2": {"datum": 33.3}, "y": {"datum": 11.63}}}
]},
{"width": 153, "height": 154, "layer": [
 {"data": {"name": "stim"}, "transform": [{"filter": "datum.freq == 40"}], "mark": {"type": "rect", "color": "#cfd0d2", "clip": true},
  "encoding": {"x": {"field": "start", "type": "quantitative", "scale": {"domain": [-25, 24.04]}, "axis": {"title": "Time (ms)", "values": [-25, -10, 0, 15], "tickCount": 20, "labelExpr": "'' + datum.value", "ticks": false, "labelFlush": false, "labelOverlap": false, "labelPadding": 6, "titlePadding": 3, "titleX": 70}},
   "x2": {"field": "end"},
   "y": {"datum": 0, "type": "quantitative", "scale": {"domain": [0, 11]}, "axis": {"title": null, "values": [1,2,3,4,5,6,7,8,9,10], "tickCount": 20, "labelExpr": "datum.value == 4 || datum.value == 8 ? '' + datum.value : ''", "tickSize": 5, "labelPadding": 4}},
   "y2": {"datum": 11}}},
 {"data": {"name": "windows"}, "mark": {"type": "rect", "filled": false, "stroke": "#808080", "strokeWidth": 1, "strokeDash": [10, 6]},
  "encoding": {"x": {"field": "start", "type": "quantitative"}, "x2": {"field": "end"}, "y": {"datum": 0}, "y2": {"datum": 11}}},
 {"data": {"name": "traces"}, "transform": [{"filter": "datum.cond == 'PV-PV' && datum.freq == 40"}], "mark": {"type": "line", "color": "#161616", "strokeWidth": 2.8, "strokeJoin": "round"},
  "encoding": {"x": {"field": "t", "type": "quantitative"}, "y": {"field": "v", "type": "quantitative"}}}
]}
],
"config": {
 "font": "Liberation Sans",
 "view": {"stroke": null},
 "axis": {"domainColor": "#000", "domainWidth": 1.5, "tickColor": "#000", "tickWidth": 1.2, "labelColor": "#000", "titleColor": "#000", "labelFont": "Liberation Sans", "titleFont": "Liberation Sans", "labelFontSize": 19.5, "titleFontSize": 19, "titleFontWeight": "normal", "grid": false, "zindex": 1},
 "text": {"font": "Liberation Sans", "color": "#000"}
}
}
